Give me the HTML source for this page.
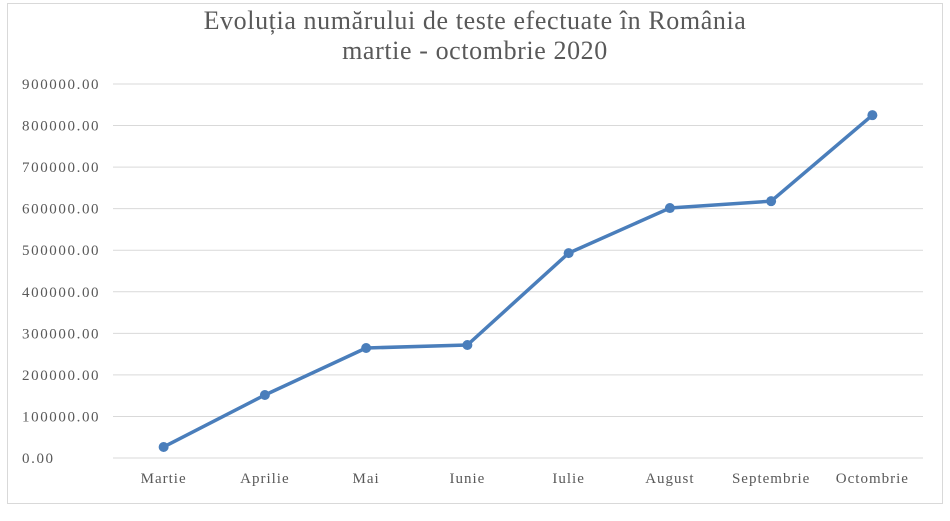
<!DOCTYPE html>
<html><head><meta charset="utf-8"><style>
body{margin:0;background:#fff;}
svg{display:block;font-family:"Liberation Serif",serif;}
</style></head><body>
<svg id="chart" width="950" height="521">
<rect x="7.5" y="3.5" width="935" height="500" fill="#fff" stroke="#d9d9d9"/>
<text x="475" y="29" text-anchor="middle" font-size="26" letter-spacing="0.6" fill="#595959">Evoluția numărului de teste efectuate în România</text>
<text x="475" y="59" text-anchor="middle" font-size="26" letter-spacing="0.6" fill="#595959">martie - octombrie 2020</text>
<g id="grid"></g><g id="yl"></g><g id="xl"></g><g id="series"></g>
</svg>
<script>
const categories=["Martie","Aprilie","Mai","Iunie","Iulie","August","Septembrie","Octombrie"];
const values=[26500,151600,264700,271900,493000,601500,618000,825000];
const yTicks=[0,100000,200000,300000,400000,500000,600000,700000,800000,900000];
const NS="http://www.w3.org/2000/svg";
const L=113,R=923,Y0=458,Y1=84,MAX=900000;
const x=i=>L+(R-L)/categories.length*(i+0.5);
const y=v=>Y0-(Y0-Y1)*v/MAX;
function mk(t,a,p){const e=document.createElementNS(NS,t);for(const k in a)e.setAttribute(k,a[k]);p.appendChild(e);return e;}
const g=document.getElementById('grid'),yl=document.getElementById('yl'),xl=document.getElementById('xl'),s=document.getElementById('series');
yTicks.forEach(v=>{
 const l=mk('line',{x1:L,x2:R,y1:y(v),y2:y(v),stroke:'#d9d9d9','stroke-width':1},g);
 
 
 const t=mk('text',{x:22,y:y(v)+5,'font-size':15,'letter-spacing':1.6,fill:'#595959'},yl);
 t.textContent=v.toFixed(2);
 
 
});
categories.forEach((c,i)=>{
 const t=mk('text',{x:x(i),y:483,'font-size':15,'letter-spacing':1,fill:'#595959','text-anchor':'middle'},xl);
 t.textContent=c;
 
 
});
const p=mk('polyline',{points:values.map((v,i)=>x(i)+','+y(v)).join(' '),fill:'none',stroke:'#4a7ebb','stroke-width':3.5,'stroke-linejoin':'round'},s);


values.forEach((v,i)=>{
 const c=mk('circle',{cx:x(i),cy:y(v),r:5,fill:'#4a7ebb'},s);
 
 
});
</script>
</body></html>
